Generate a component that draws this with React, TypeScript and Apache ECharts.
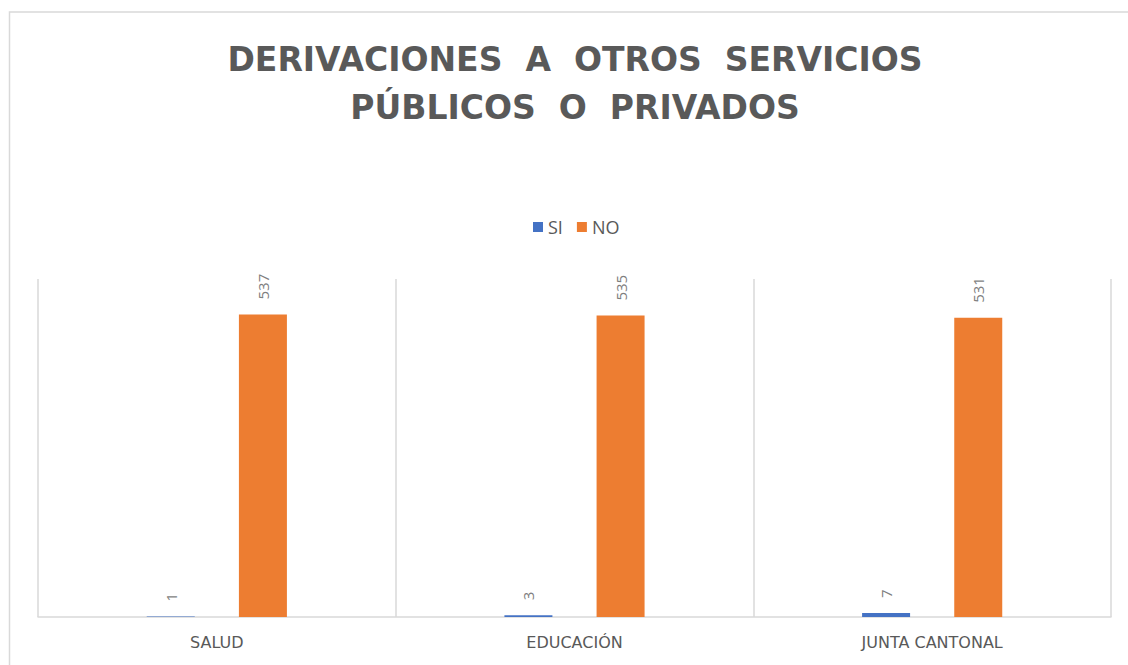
import React, { useEffect, useRef } from "react";
import * as echarts from "echarts";

const categories = ["SALUD", "EDUCACIÓN", "JUNTA CANTONAL"];
const siValues = [1, 3, 7];
const noValues = [537, 535, 531];
const titleText = "DERIVACIONES  A  OTROS  SERVICIOS\nPÚBLICOS  O  PRIVADOS";

export default function App() {
  const ref = useRef<HTMLDivElement>(null);
  useEffect(() => {
    if (!ref.current) return;
    const chart = echarts.init(ref.current, undefined, { renderer: "svg" });
    const labelStyle = {
      show: true,
      position: "top" as const,
      rotate: 90,
      align: "left" as const,
      verticalAlign: "middle" as const,
      distance: 15,
      fontSize: 15,
      color: "#7f7f7f",
      fontFamily: "Open Sans",
    };
    chart.setOption({
      animation: false,
      backgroundColor: "#ffffff",
      graphic: [
        {
          type: "rect",
          shape: { x: 9.5, y: 12, width: 1300, height: 800 },
          style: { fill: "none", stroke: "#d9d9d9", lineWidth: 1.5 },
          silent: true,
        },
      ],
      title: {
        text: titleText,
        left: 570,
        top: 30,
        textAlign: "center",
        textStyle: {
          fontFamily: "DejaVu Sans",
          fontWeight: "bold",
          fontSize: 33,
          lineHeight: 48,
          color: "#595959",
        },
      },
      legend: {
        top: 213,
        left: 528,
        itemWidth: 10,
        itemHeight: 10,
        itemGap: 14,
        icon: "rect",
        textStyle: { fontFamily: "Open Sans", fontSize: 18, color: "#595959" },
        data: ["SI", "NO"],
      },
      grid: { left: 38, right: 17, top: 279, bottom: 48, containLabel: false },
      xAxis: {
        type: "category",
        data: categories,
        axisLine: { lineStyle: { color: "#d9d9d9", width: 1.5 } },
        axisTick: { show: false },
        splitLine: { show: true, lineStyle: { color: "#d9d9d9", width: 1.5 } },
        axisLabel: {
          fontFamily: "DejaVu Sans",
          fontSize: 16,
          color: "#595959",
          margin: 17,
        },
      },
      yAxis: {
        type: "value",
        min: 0,
        max: 600,
        show: false,
        splitLine: { show: false },
      },
      series: [
        {
          name: "SI",
          type: "bar",
          data: siValues,
          barWidth: 48,
          barGap: "92%",
          itemStyle: { color: "#4472C4" },
          label: labelStyle,
        },
        {
          name: "NO",
          type: "bar",
          data: noValues,
          barWidth: 48,
          barGap: "92%",
          itemStyle: { color: "#ED7D31" },
          label: labelStyle,
        },
      ],
    });
    return () => chart.dispose();
  }, []);
  return (
    <div
      ref={ref}
      style={{ position: "fixed", left: 0, top: 0, width: 1128, height: 665 }}
    />
  );
}
